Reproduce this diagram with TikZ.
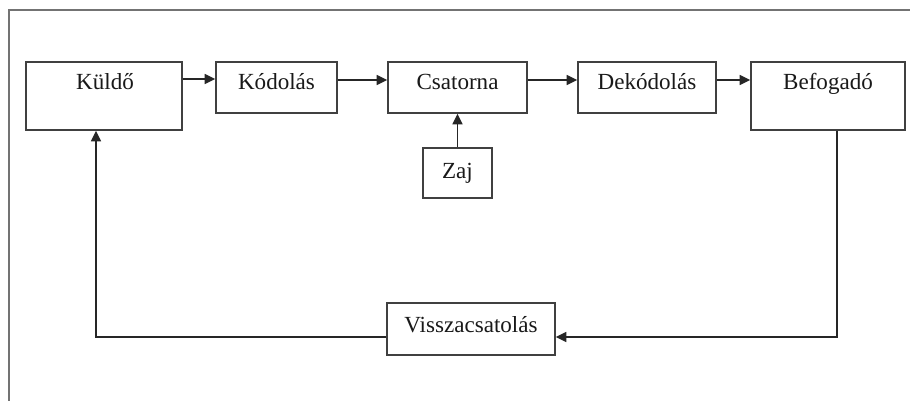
\documentclass[tikz,border=0pt]{standalone}
\usepackage{fontspec}
\setmainfont{Liberation Serif}
\usetikzlibrary{arrows.meta,fit}
\begin{document}
\begin{tikzpicture}[x=0.75pt,y=-0.75pt,
  box/.style={draw=black!75, line width=1.1pt, inner sep=0pt},
  lbl/.style={font=\fontsize{17.3}{20}\selectfont, anchor=base, inner sep=0pt, text=black!90},
  conn/.style={draw=black!85, line width=1.2pt},
  arr/.style={conn, -{Triangle[length=8pt,width=7.5pt]}}]
\useasboundingbox (0,0) rectangle (910,400);
\fill[white] (0,0) rectangle (910,400);
% outer frame
\draw[black!55, line width=1.1pt] (9,420) -- (9,10) -- (930,10);
% boxes
\node[box, fit={(26,62) (182,130)}] (kuldo) {};
\node[box, fit={(216,62) (337,113)}] (kodolas) {};
\node[box, fit={(388,62) (527,113)}] (csatorna) {};
\node[box, fit={(423,148) (492,198)}] (zaj) {};
\node[box, fit={(578,62) (716,113)}] (dekodolas) {};
\node[box, fit={(751,62) (905,130)}] (befogado) {};
\node[box, fit={(387,303) (555,355)}] (vissza) {};
% labels
\node[lbl] (tkuldo) at (105,89) {Küldő};
\node[lbl] (tkodolas) at (276.5,89) {Kódolás};
\node[lbl] (tcsatorna) at (457.5,89) {Csatorna};
\node[lbl] (tzaj) at (457.5,178) {Zaj};
\node[lbl] (tdekodolas) at (647,89) {Dekódolás};
\node[lbl] (tbefogado) at (828,89) {Befogadó};
\node[lbl] (tvissza) at (471,332) {Visszacsatolás};
% connectors
\coordinate (c1) at (837,337);
\coordinate (c2) at (96,337);
\draw[arr] (kuldo.east |- 0,79) -- (kodolas.west |- 0,79);
\draw[arr] (kodolas.east |- 0,80) -- (csatorna.west |- 0,80);
\draw[arr] (csatorna.east |- 0,80) -- (dekodolas.west |- 0,80);
\draw[arr] (dekodolas.east |- 0,80) -- (befogado.west |- 0,80);
\draw[arr] (zaj.north) -- (csatorna.south);
\draw[arr] (befogado.south -| c1) -- (c1) -- (vissza.east |- c1);
\draw[arr] (vissza.west |- c2) -- (c2) -- (kuldo.south -| c2);
\end{tikzpicture}
\end{document}
